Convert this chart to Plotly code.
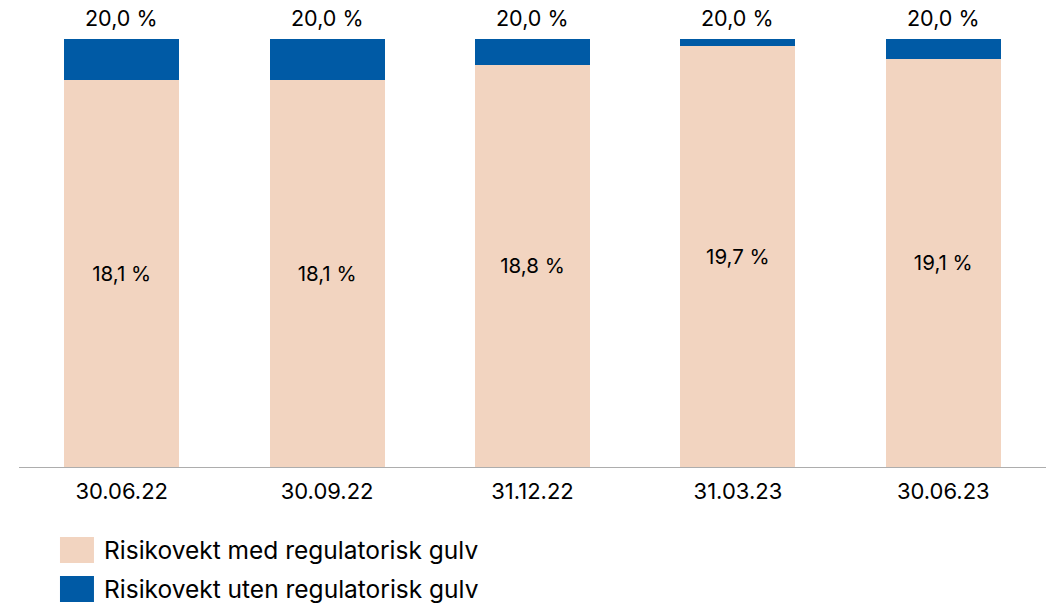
import plotly.graph_objects as go

categories = ["30.06.22", "30.09.22", "31.12.22", "31.03.23", "30.06.23"]
med_gulv = [18.1, 18.1, 18.8, 19.7, 19.1]     # Risikovekt med regulatorisk gulv
uten_gulv_total = [20.0, 20.0, 20.0, 20.0, 20.0]  # Risikovekt uten regulatorisk gulv (total)
series_names = ["Risikovekt med regulatorisk gulv", "Risikovekt uten regulatorisk gulv"]

diff = [round(t - m, 2) for t, m in zip(uten_gulv_total, med_gulv)]

def fmt(v):
    return f"{v:.1f}".replace(".", ",") + " %"

PEACH = "#F2D4C0"
BLUE = "#005AA5"
FONT = "Inter"

fig = go.Figure()
fig.add_bar(x=categories, y=med_gulv, name=series_names[0], marker_color=PEACH,
            marker_line_width=0, text=[fmt(v) for v in med_gulv], textposition="inside",
            insidetextanchor="middle", constraintext="none",
            textfont=dict(family=FONT, size=20.5, color="#000"), showlegend=False)
fig.add_bar(x=categories, y=diff, name=series_names[1], marker_color=BLUE,
            marker_line_width=0, showlegend=False)

for c, t in zip(categories, uten_gulv_total):
    fig.add_annotation(x=c, y=t, text=fmt(t), showarrow=False, yanchor="bottom",
                       yshift=6, font=dict(family=FONT, size=21.5, color="#000"))

# custom legend (paper coords)
legend_y = [-0.1816, -0.267]
colors = [PEACH, BLUE]
for name, col, ly in zip(series_names, colors, legend_y):
    fig.add_shape(type="rect", xref="paper", yref="paper", x0=0.0399, x1=0.073,
                  y0=ly - 0.0285, y1=ly + 0.0285, fillcolor=col, line_width=0)
    fig.add_annotation(xref="paper", yref="paper", x=0.081, y=ly, text=name,
                       showarrow=False, xanchor="left", yanchor="middle",
                       font=dict(family=FONT, size=24.5, color="#000"))

fig.update_layout(
    barmode="stack", bargap=0.44, width=1051, height=604,
    margin=dict(l=19, r=5, t=10, b=137),
    plot_bgcolor="white", paper_bgcolor="white",
    font=dict(family=FONT, color="#000"),
)
fig.update_yaxes(range=[0, 21.37], visible=False)
fig.update_xaxes(showline=True, linecolor="#ADADAD", linewidth=1, ticks="",
                 tickfont=dict(family=FONT, size=22, color="#000"), showgrid=False,
                 ticklabelstandoff=5)

fig.write_html("out.html", config={"displayModeBar": False},
               post_script="document.body.style.margin='0';document.body.style.overflow='hidden';")
